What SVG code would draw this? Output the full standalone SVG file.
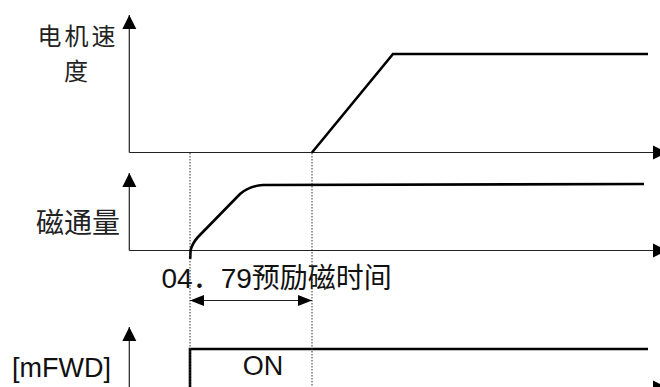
<svg xmlns="http://www.w3.org/2000/svg" width="660" height="387" viewBox="0 0 660 387">
<style>
.axis{stroke:#222;stroke-width:1.2;fill:none}
.sig{stroke:#000;stroke-width:2.6;fill:none;stroke-linejoin:miter}
.dot{stroke:#333;stroke-width:1;stroke-dasharray:1.5 1.5;fill:none}
.cjk{font-family:"Noto Sans CJK SC","Liberation Sans",sans-serif;fill:#222}
.lat{font-family:"Liberation Sans","Noto Sans CJK SC",sans-serif;fill:#111}
</style>
<defs>
<marker id="ah" markerUnits="userSpaceOnUse" markerWidth="16" markerHeight="16" viewBox="0 0 16 16" refX="14" refY="8" orient="auto">
<path d="M0,1 L14,8 L0,15 Z" fill="#000"/>
</marker>
<marker id="ahs" markerUnits="userSpaceOnUse" markerWidth="16" markerHeight="12" viewBox="0 0 16 12" refX="14" refY="6" orient="auto-start-reverse">
<path d="M0,0.5 L14,6 L0,11.5 Z" fill="#000"/>
</marker>
</defs>
<rect width="660" height="387" fill="#fff"/>

<g id="speed-chart">
<line class="axis" x1="129.3" y1="152.5" x2="129.3" y2="15" marker-end="url(#ah)"/>
<line class="axis" x1="129.3" y1="152.5" x2="667" y2="152.5" marker-end="url(#ah)"/>
<path class="sig" d="M312,152.5 L393,54 L648,54"/>
<text class="cjk" font-size="24" letter-spacing="3" text-anchor="middle"><tspan x="78" y="45">电机速</tspan><tspan x="77.5" y="80">度</tspan></text>
</g>

<g id="flux-chart">
<line class="axis" x1="129.3" y1="250.5" x2="129.3" y2="173" marker-end="url(#ah)"/>
<line class="axis" x1="129.3" y1="250.5" x2="667" y2="250.5" marker-end="url(#ah)"/>
<path class="sig" d="M190.2,259 L190.6,250 Q192.5,243 198,237 L240,194 Q249,186 263,185 L644,184"/>
<text class="cjk" x="36" y="233" font-size="28">磁通量</text>
</g>

<g id="fwd-chart">
<line class="axis" x1="129.3" y1="390" x2="129.3" y2="327" marker-end="url(#ah)"/>
<line class="axis" x1="129.3" y1="387.5" x2="667" y2="387.5" marker-end="url(#ah)"/>
<path class="sig" d="M190,390 L190,349 L648,349"/>
<text class="lat" x="12" y="377" font-size="27">[mFWD]</text>
<text class="lat" x="263" y="375" font-size="27" text-anchor="middle">ON</text>
</g>

<g id="premag-label">
<text class="lat" x="161.5" y="288" font-size="28">04．79预励磁时间</text>
</g>

<g id="connectors">
<line class="dot" x1="190" y1="153" x2="190" y2="387"/>
<line class="dot" x1="312" y1="153" x2="312" y2="387"/>
<line class="axis" x1="190" y1="300.5" x2="312" y2="300.5" stroke="#000" marker-start="url(#ahs)" marker-end="url(#ahs)"/>
</g>
</svg>
